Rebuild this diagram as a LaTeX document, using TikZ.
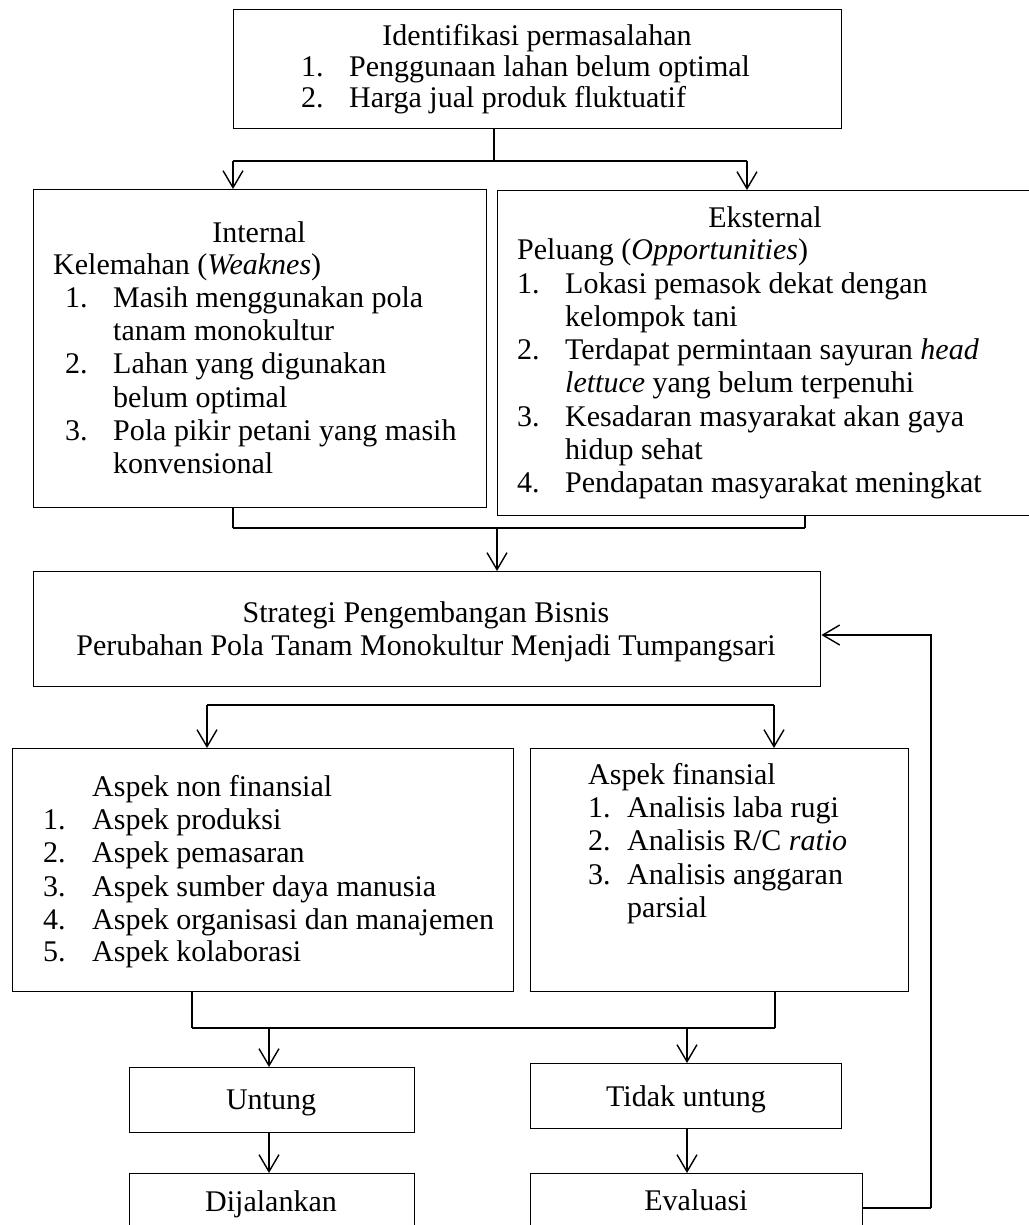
\documentclass[tikz,border=0pt]{standalone}
\usepackage{fontspec}
\setmainfont{Liberation Serif}
\usetikzlibrary{arrows.meta}
\newcommand\diagfont{\fontsize{30}{33}\selectfont}
\begin{document}
\begin{tikzpicture}[x=1pt,y=-1pt,
  box/.style={draw, line width=1.4pt, inner sep=0pt, anchor=north west},
  conn/.style={line width=1.4pt},
  bar/.style={line width=2.2pt},
  arr/.style={line width=1.4pt, -{Straight Barb[length=17pt,width=20pt,line width=1.4pt]}},
  txt/.style={anchor=base west, inner sep=0pt, font=\diagfont},
  ctxt/.style={anchor=base, inner sep=0pt, font=\diagfont}]
\fill[white] (0,0) rectangle (1028,1225);
\useasboundingbox (0,0) rectangle (1028,1225);

% boxes
\node[box, minimum width=608pt, minimum height=119pt] (top) at (233,9) {};
\node[box, minimum width=453pt, minimum height=318pt] (int) at (33,189) {};
\node[box, minimum width=540pt, minimum height=325pt] (ext) at (497,190) {};
\node[box, minimum width=787pt, minimum height=115pt] (strat) at (33,571) {};
\node[box, minimum width=501pt, minimum height=243pt] (nonfin) at (12,748) {};
\node[box, minimum width=378pt, minimum height=243pt] (fin) at (530,748) {};
\node[box, minimum width=285pt, minimum height=65pt] (untung) at (129,1067) {};
\node[box, minimum width=311pt, minimum height=65pt] (tidak) at (530,1063) {};
\node[box, minimum width=285pt, minimum height=80pt] (dijal) at (129,1173) {};
\node[box, minimum width=332pt, minimum height=80pt] (eval) at (530,1173) {};

% texts: top
\node[ctxt] (tTitle) at (537,46) {Identifikasi permasalahan};
\node[txt] (tN1) at (301,77) {1.};
\node[txt] (tL1) at (349,77) {Penggunaan lahan belum optimal};
\node[txt] (tN2) at (301,108) {2.};
\node[txt] (tL2) at (349,108) {Harga jual produk fluktuatif};

% internal
\node[ctxt] (iH) at (259,242) {Internal};
\node[txt] (iS) at (53,274) {Kelemahan (\textit{Weaknes})};
\node[txt] (iN1) at (65,307) {1.};
\node[txt] (iL1) at (113,307) {Masih menggunakan pola};
\node[txt] (iL1b) at (113,340) {tanam monokultur};
\node[txt] (iN2) at (65,373) {2.};
\node[txt] (iL2) at (113,373) {Lahan yang digunakan};
\node[txt] (iL2b) at (113,407) {belum optimal};
\node[txt] (iN3) at (65,440) {3.};
\node[txt] (iL3) at (113,440) {Pola pikir petani yang masih};
\node[txt] (iL3b) at (113,473) {konvensional};

% external
\node[ctxt] (eH) at (765,227) {Eksternal};
\node[txt] (eS) at (517,259) {Peluang (\textit{Opportunities})};
\node[txt] (eN1) at (517,293) {1.};
\node[txt] (eL1) at (565,293) {Lokasi pemasok dekat dengan};
\node[txt] (eL1b) at (565,326) {kelompok tani};
\node[txt] (eN2) at (517,359) {2.};
\node[txt] (eL2) at (565,359) {Terdapat permintaan sayuran \textit{head}};
\node[txt] (eL2b) at (565,392) {\textit{lettuce} yang belum terpenuhi};
\node[txt] (eN3) at (517,426) {3.};
\node[txt] (eL3) at (565,426) {Kesadaran masyarakat akan gaya};
\node[txt] (eL3b) at (565,459) {hidup sehat};
\node[txt] (eN4) at (517,492) {4.};
\node[txt] (eL4) at (565,492) {Pendapatan masyarakat meningkat};

% strategi
\node[ctxt] (sL1) at (426,622) {Strategi Pengembangan Bisnis};
\node[ctxt] (sL2) at (426,655) {Perubahan Pola Tanam Monokultur Menjadi Tumpangsari};

% non finansial
\node[txt] (nH) at (92,796) {Aspek non finansial};
\node[txt] (nN1) at (43,829) {1.};
\node[txt] (nL1) at (92,829) {Aspek produksi};
\node[txt] (nN2) at (43,862) {2.};
\node[txt] (nL2) at (92,862) {Aspek pemasaran};
\node[txt] (nN3) at (43,896) {3.};
\node[txt] (nL3) at (92,896) {Aspek sumber daya manusia};
\node[txt] (nN4) at (43,929) {4.};
\node[txt] (nL4) at (92,929) {Aspek organisasi dan manajemen};
\node[txt] (nN5) at (43,961) {5.};
\node[txt] (nL5) at (92,961) {Aspek kolaborasi};

% finansial
\node[txt] (fH) at (588,784) {Aspek finansial};
\node[txt] (fN1) at (588,817) {1.};
\node[txt] (fL1) at (627,817) {Analisis laba rugi};
\node[txt] (fN2) at (588,850) {2.};
\node[txt] (fL2) at (627,850) {Analisis R/C \textit{ratio}};
\node[txt] (fN3) at (588,884) {3.};
\node[txt] (fL3) at (627,884) {Analisis anggaran};
\node[txt] (fL3b) at (627,917) {parsial};

% lower boxes
\node[ctxt] (uT) at (271,1109) {Untung};
\node[ctxt] (tT) at (686,1106) {Tidak untung};
\node[ctxt] (dT) at (271,1211) {Dijalankan};
\node[ctxt] (evT) at (696,1210) {Evaluasi};

% connectors
\coordinate (j1) at (494,161);
\coordinate (jl) at (233,161);
\coordinate (jr) at (747,161);
\draw[conn] (top.south -| j1) -- (j1);
\draw[bar] (jl) -- (jr);
\draw[arr] (jl) -- (jl |- int.north);
\draw[arr] (jr) -- (jr |- ext.north);

\coordinate (k1) at (233,528);
\coordinate (k2) at (805,528);
\coordinate (k3) at (497,528);
\draw[conn] (int.south -| k1) -- (k1);
\draw[conn] (ext.south -| k2) -- (k2);
\draw[bar] (k1) -- (k2);
\draw[arr] (k3) -- (k3 |- strat.north);

\coordinate (m1) at (207,705);
\coordinate (m2) at (774,705);
\draw[bar] (m1) -- (m2);
\draw[arr] (m1) -- (m1 |- nonfin.north);
\draw[arr] (m2) -- (m2 |- fin.north);

\coordinate (n1) at (192,1028);
\coordinate (n2) at (775,1028);
\coordinate (n3) at (269,1028);
\coordinate (n4) at (687,1028);
\draw[conn] (nonfin.south -| n1) -- (n1);
\draw[conn] (fin.south -| n2) -- (n2);
\draw[bar] (n1) -- (n2);
\draw[arr] (n3) -- (n3 |- untung.north);
\draw[arr] (n4) -- (n4 |- tidak.north);
\draw[arr] (untung.south -| n3) -- (n3 |- dijal.north);
\draw[arr] (tidak.south -| n4) -- (n4 |- eval.north);

\coordinate (f1) at (931,1208);
\coordinate (f2) at (931,635);
\draw[bar] (eval.east |- f1) -- (f1);
\draw[arr] (f1) -- (f2) -- (strat.east |- f2);
\end{tikzpicture}
\end{document}
